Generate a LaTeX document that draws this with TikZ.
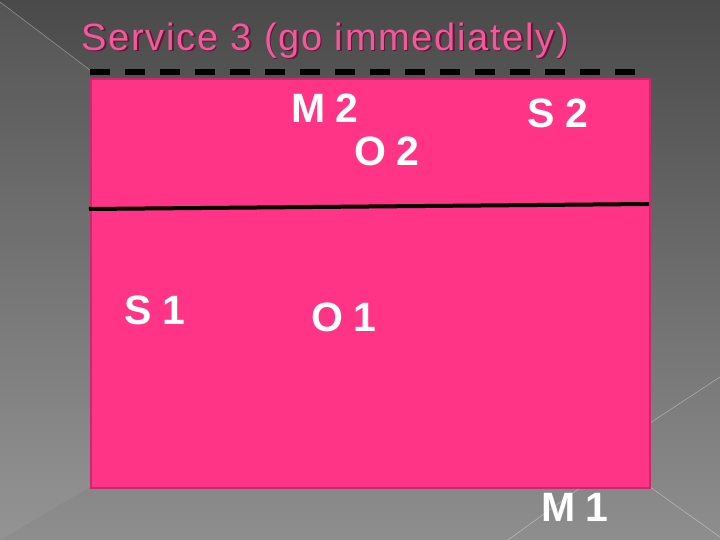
\documentclass[tikz,border=0pt]{standalone}
\usepackage{fontspec}
\setmainfont{Liberation Sans}
\newfontfamily\titlefont[LetterSpace=4.5]{Liberation Sans}
\usetikzlibrary{calc}
\definecolor{bgtop}{RGB}{74,74,74}
\definecolor{bgbot}{RGB}{142,142,142}
\definecolor{pinkfill}{RGB}{255,52,134}
\definecolor{pinkedge}{RGB}{196,44,108}
\definecolor{titlepink}{RGB}{243,88,152}
\definecolor{titleshadow}{RGB}{95,25,55}
\tikzset{
  lbl/.style={inner sep=0pt, text=white, font=\fontsize{41}{41}\selectfont\bfseries},
  ttl/.style={anchor=base west, inner sep=0pt, font=\titlefont\fontsize{38}{38}\selectfont},
  faint/.style={draw=white, opacity=0.35, line width=0.6pt},
  divider/.style={draw=black, line width=4pt},
  dashline/.style={draw=black, line width=6pt, dash pattern=on 20pt off 15pt}
}
\begin{document}
\begin{tikzpicture}[x=1pt,y=-1pt]
\useasboundingbox (0,0) rectangle (720,540);
% background
\shade[top color=bgtop, bottom color=bgbot] (0,0) rectangle (720,540);
\fill[white, opacity=0.06] (0,2) -- (90,70) -- (90,487) -- (0,540) -- cycle;
\draw[faint] (0,2) -- (90,70);
\draw[faint] (650,487) -- (720,537);
\draw[faint] (650,423) -- (720,377);
\draw[faint] (508,540) -- (580,488);
% title
\node[ttl, text=titleshadow] at (83,52) {Service 3 (go immediately)};
\node[ttl, text=titlepink] (title) at (81.5,50.5) {Service 3 (go immediately)};
% dashed line
\coordinate (dl) at (90,72);
\coordinate (dr) at (636,72);
\draw[dashline] (dl) -- (dr);
% pink box
\node[draw=pinkedge, fill=pinkfill, line width=2pt, minimum width=559pt, minimum height=409pt, inner sep=0pt, anchor=north west] (box) at (90,78) {};
% divider
\coordinate (divl) at (89,209);
\coordinate (divr) at (649,204);
\draw[divider] (divl) -- (divr);
% labels
\node[lbl] (M2) at (324.5,108.5) {M\kern10pt 2};
\node[lbl] (O2) at (386.5,151.5) {O\kern10pt 2};
\node[lbl] (S2) at (558,113.5) {S\kern10pt 2};
\node[lbl] (S1) at (155,310) {S\kern10pt 1};
\node[lbl] (O1) at (344,317) {O\kern10pt 1};
\node[lbl] (M1) at (574.5,507.5) {M\kern10pt 1};
\end{tikzpicture}
\end{document}
